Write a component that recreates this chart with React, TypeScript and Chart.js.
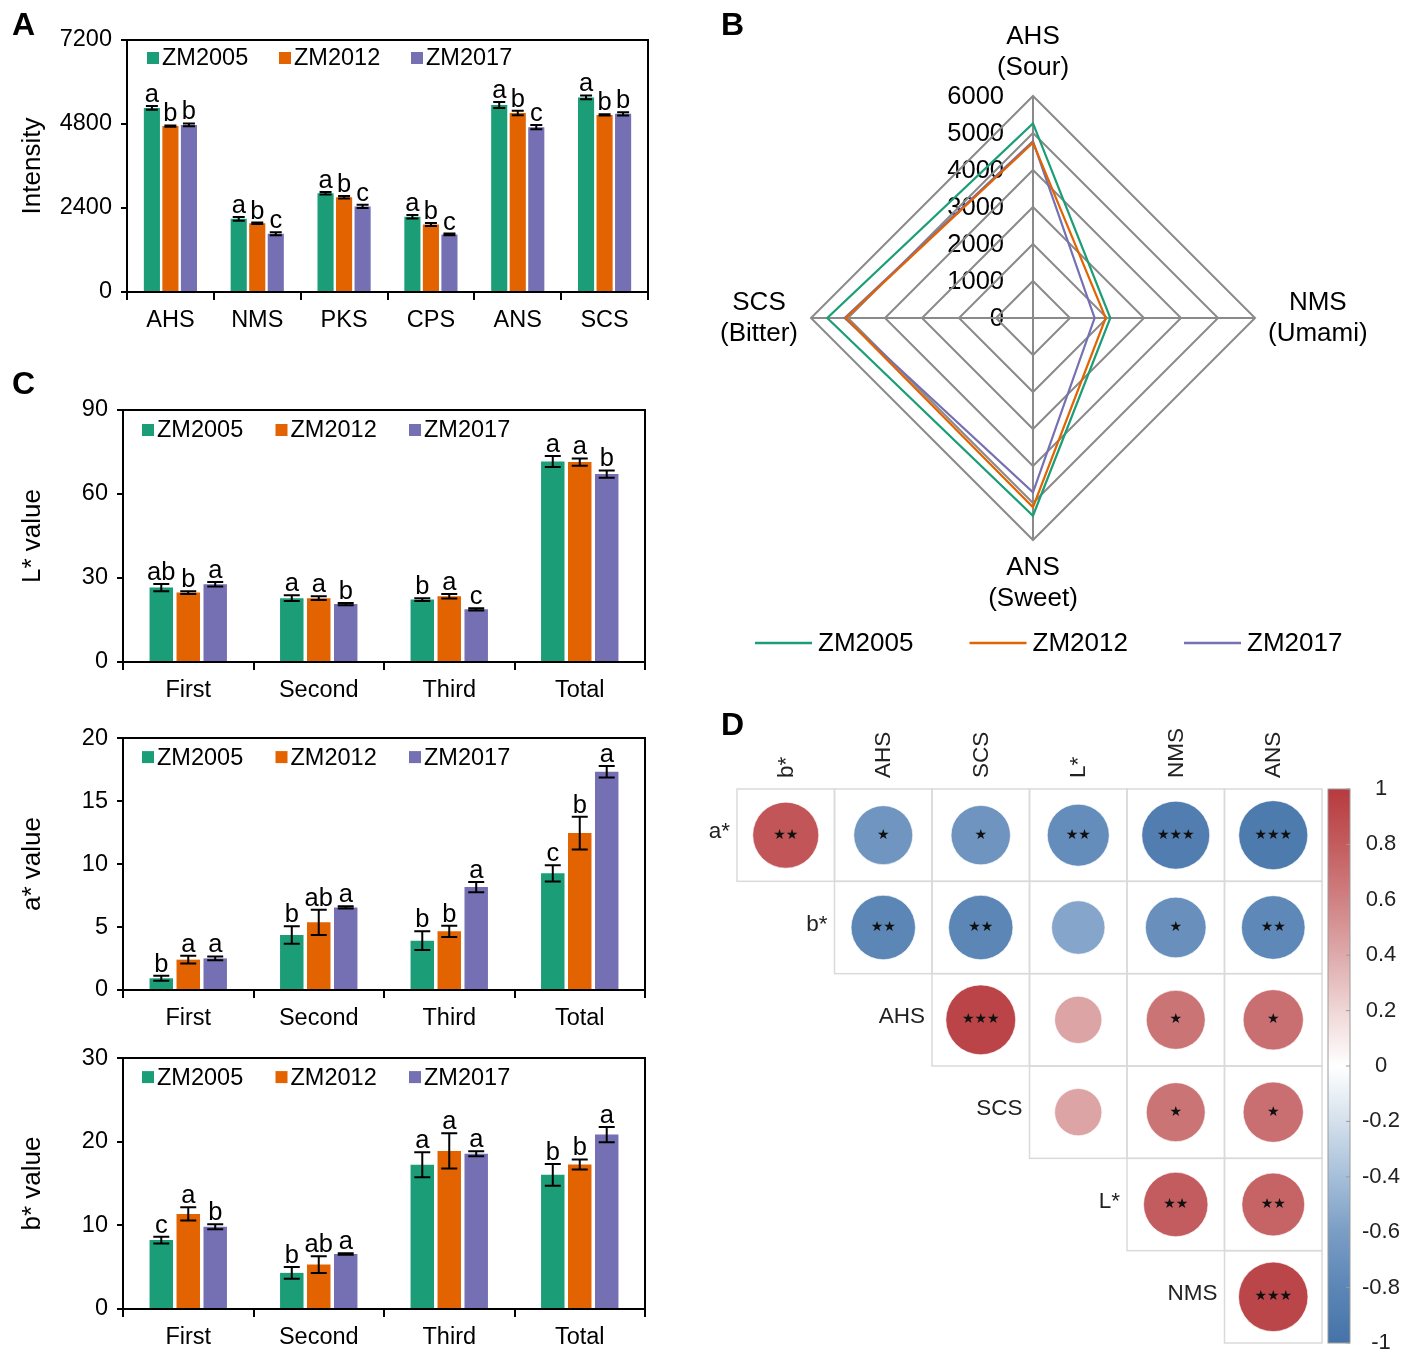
import React, { useEffect, useRef } from 'react';
import { Chart, registerables } from 'chart.js';

Chart.register(...registerables);

const FONT = '"Liberation Sans", Arial, Helvetica, sans-serif';
const SERIES = ['ZM2005', 'ZM2012', 'ZM2017'];
const SERIES_COLORS = ['#1b9e77', '#e26300', '#7570b3'];

// ---------- Panel A : taste sensor intensity ----------
const tasteCategories = ['AHS', 'NMS', 'PKS', 'CPS', 'ANS', 'SCS'];
const intensity2005 = [5260, 2090, 2820, 2150, 5345, 5560];
const intensity2012 = [4740, 1965, 2710, 1930, 5115, 5060];
const intensity2017 = [4775, 1665, 2445, 1645, 4710, 5090];
const intensityErr2005 = [55, 55, 35, 50, 85, 55];
const intensityErr2012 = [20, 20, 35, 45, 65, 20];
const intensityErr2017 = [40, 45, 45, 25, 60, 45];
const intensityLetters2005 = ['a', 'a', 'a', 'a', 'a', 'a'];
const intensityLetters2012 = ['b', 'b', 'b', 'b', 'b', 'b'];
const intensityLetters2017 = ['b', 'c', 'c', 'c', 'c', 'b'];

// ---------- Panel B : radar ----------
const radarAxes = ['AHS', 'NMS', 'ANS', 'SCS'];
const radarAxisNames = ['(Sour)', '(Umami)', '(Sweet)', '(Bitter)'];
const radarTicks = [0, 1000, 2000, 3000, 4000, 5000, 6000];

// ---------- Panel C : colour values ----------
const stages = ['First', 'Second', 'Third', 'Total'];
const L2005 = [26.6, 22.8, 22.3, 71.6];
const L2012 = [24.8, 22.8, 23.5, 71.4];
const L2017 = [27.8, 20.7, 18.8, 67.1];
const LErr2005 = [1.3, 1.0, 0.5, 2.0];
const LErr2012 = [0.5, 0.7, 0.8, 1.3];
const LErr2017 = [0.8, 0.4, 0.4, 1.3];
const LLetters2005 = ['ab', 'a', 'b', 'a'];
const LLetters2012 = ['b', 'a', 'a', 'a'];
const LLetters2017 = ['a', 'b', 'c', 'b'];

const a2005 = [0.93, 4.37, 3.92, 9.26];
const a2012 = [2.41, 5.37, 4.66, 12.46];
const a2017 = [2.51, 6.56, 8.17, 17.33];
const aErr2005 = [0.2, 0.7, 0.75, 0.65];
const aErr2012 = [0.3, 1.0, 0.45, 1.3];
const aErr2017 = [0.15, 0.08, 0.4, 0.45];
const aLetters2005 = ['b', 'b', 'b', 'c'];
const aLetters2012 = ['a', 'ab', 'b', 'b'];
const aLetters2017 = ['a', 'a', 'a', 'a'];

const b2005 = [8.24, 4.32, 17.24, 16.05];
const b2012 = [11.37, 5.31, 18.9, 17.28];
const b2017 = [9.83, 6.58, 18.55, 20.85];
const bErr2005 = [0.4, 0.7, 1.5, 1.3];
const bErr2012 = [0.8, 1.0, 2.1, 0.6];
const bErr2017 = [0.3, 0.08, 0.3, 0.9];
const bLetters2005 = ['c', 'b', 'a', 'b'];
const bLetters2012 = ['a', 'ab', 'a', 'b'];
const bLetters2017 = ['b', 'a', 'a', 'a'];

// ---------- Panel D : correlation matrix (upper triangle) ----------
const corrRows = ['a*', 'b*', 'AHS', 'SCS', 'L*', 'NMS'];
const corrCols = ['b*', 'AHS', 'SCS', 'L*', 'NMS', 'ANS'];
const corrRowA = [0.84, -0.67, -0.68, -0.74, -0.89, -0.92];
const corrRowB = [-0.8, -0.8, -0.55, -0.71, -0.78];
const corrRowAHS = [0.94, 0.43, 0.67, 0.7];
const corrRowSCS = [0.43, 0.67, 0.7];
const corrRowL = [0.8, 0.76];
const corrRowNMS = [0.93];
const starsRowA = [2, 1, 1, 2, 3, 3];
const starsRowB = [2, 2, 0, 1, 2];
const starsRowAHS = [3, 0, 1, 1];
const starsRowSCS = [0, 1, 1];
const starsRowL = [2, 2];
const starsRowNMS = [3];
const cbarStops = [-1, -0.8, -0.6, -0.4, -0.2, 0, 0.2, 0.4, 0.6, 0.8, 1];
const cbarColors = ['#4573a8', '#5b86b6', '#7a9dc5', '#a6bfd9', '#d4e0ec', '#ffffff', '#efd6d6', '#deaaab', '#d08183', '#c35c5e', '#b73a3e'];
const cbarTicks = [1, 0.8, 0.6, 0.4, 0.2, 0, -0.2, -0.4, -0.6, -0.8, -1];

function hexToRgb(h: string) {
  const n = parseInt(h.slice(1), 16);
  return [(n >> 16) & 255, (n >> 8) & 255, n & 255];
}
function corrColor(v: number) {
  for (let k = 0; k < cbarStops.length - 1; k++) {
    if (v <= cbarStops[k + 1]) {
      const t = (v - cbarStops[k]) / (cbarStops[k + 1] - cbarStops[k]);
      const c1 = hexToRgb(cbarColors[k]);
      const c2 = hexToRgb(cbarColors[k + 1]);
      const c = c1.map((c, i) => Math.round(c + (c2[i] - c) * t));
      return `rgb(${c[0]},${c[1]},${c[2]})`;
    }
  }
  return cbarColors[cbarColors.length - 1];
}

type BarCfg = {
  categories: string[];
  values: number[][];
  errors: number[][];
  letters: string[][];
  yMax: number;
  yStep: number;
  yTitle: string;
  area: { left: number; top: number; right: number; bottom: number };
  catPct: number;
  barPct: number;
  capW: number;
  legend: { x0: number; dx: number; dy: number };
};

function buildBarChart(canvas: HTMLCanvasElement, cfg: BarCfg) {
  const W = canvas.width;
  const H = canvas.height;
  const extras = {
    id: 'barExtras',
    afterDatasetsDraw(chart: any) {
      const { ctx, chartArea: a } = chart;
      const ys = chart.scales.y;
      ctx.save();
      ctx.strokeStyle = '#000';
      ctx.lineWidth = 2;
      ctx.beginPath();
      ctx.moveTo(a.left - 1, a.top);
      ctx.lineTo(a.right, a.top);
      ctx.lineTo(a.right, a.bottom + 1);
      ctx.stroke();
      ctx.fillStyle = '#000';
      ctx.font = `25.5px ${FONT}`;
      ctx.textAlign = 'center';
      ctx.textBaseline = 'alphabetic';
      cfg.values.forEach((series, s) => {
        const meta = chart.getDatasetMeta(s);
        series.forEach((v, i) => {
          const bar = meta.data[i];
          const e = cfg.errors[s][i];
          const yt = ys.getPixelForValue(v + e);
          const yb = ys.getPixelForValue(v - e);
          const x = bar.x;
          const hw = cfg.capW / 2;
          ctx.beginPath();
          ctx.moveTo(x, yt);
          ctx.lineTo(x, yb);
          ctx.moveTo(x - hw, yt);
          ctx.lineTo(x + hw, yt);
          ctx.moveTo(x - hw, yb);
          ctx.lineTo(x + hw, yb);
          ctx.stroke();
          ctx.fillText(cfg.letters[s][i], x, yt - 4);
        });
      });
      ctx.font = `23.5px ${FONT}`;
      ctx.textAlign = 'left';
      ctx.textBaseline = 'middle';
      SERIES.forEach((name, s) => {
        const x = a.left + cfg.legend.x0 + s * cfg.legend.dx;
        const y = a.top + cfg.legend.dy;
        ctx.fillStyle = SERIES_COLORS[s];
        ctx.fillRect(x, y - 6, 12, 12);
        ctx.fillStyle = '#000';
        ctx.fillText(name, x + 15, y + 1);
      });
      ctx.restore();
    },
  };
  return new Chart(canvas, {
    type: 'bar',
    data: {
      labels: cfg.categories,
      datasets: SERIES.map((name, s) => ({
        label: name,
        data: cfg.values[s],
        backgroundColor: SERIES_COLORS[s],
        borderWidth: 0,
        categoryPercentage: cfg.catPct,
        barPercentage: cfg.barPct,
      })),
    },
    options: {
      animation: false,
      responsive: false,
      devicePixelRatio: 1,
      events: [],
      layout: { padding: { left: 0, top: cfg.area.top, right: W - cfg.area.right, bottom: 0 } },
      plugins: { legend: { display: false }, tooltip: { enabled: false } },
      scales: {
        x: {
          type: 'category',
          offset: true,
          grid: { offset: true, drawOnChartArea: false, drawTicks: true, tickLength: 8, color: '#000', lineWidth: 2 },
          border: { display: true, color: '#000', width: 2 },
          ticks: { color: '#000', font: { family: FONT, size: 23.5 }, padding: 6, maxRotation: 0, autoSkip: false },
          afterFit: (s: any) => {
            s.height = H - cfg.area.bottom;
          },
        },
        y: {
          min: 0,
          max: cfg.yMax,
          ticks: {
            stepSize: cfg.yStep,
            color: '#000',
            font: { family: FONT, size: 23.5 },
            padding: 9,
            callback: (v: any) => String(v),
          },
          grid: { drawOnChartArea: false, drawTicks: true, tickLength: 6, color: '#000', lineWidth: 2 },
          border: { display: true, color: '#000', width: 2 },
          title: {
            display: true,
            text: cfg.yTitle,
            color: '#000',
            font: { family: FONT, size: 26 },
            padding: { top: 17, bottom: 0 },
          },
          afterFit: (s: any) => {
            s.width = cfg.area.left;
          },
        },
      },
    },
    plugins: [extras],
  } as any);
}

function buildRadar(canvas: HTMLCanvasElement) {
  const pick = (arr: number[]) => radarAxes.map((k) => arr[tasteCategories.indexOf(k)]);
  const radarValues = [pick(intensity2005), pick(intensity2012), pick(intensity2017)];
  const extras = {
    id: 'radarExtras',
    beforeDraw(chart: any) {
      const r = chart.scales.r;
      const ctx = chart.ctx;
      ctx.save();
      ctx.fillStyle = '#000';
      ctx.font = `25.5px ${FONT}`;
      ctx.textAlign = 'right';
      ctx.textBaseline = 'middle';
      radarTicks.forEach((v) => {
        const p = r.getPointPosition(0, r.getDistanceFromCenterForValue(v));
        ctx.fillText(String(v), p.x - 29, p.y + 1);
      });
      ctx.restore();
    },
    afterDraw(chart: any) {
      const r = chart.scales.r;
      const ctx = chart.ctx;
      ctx.save();
      ctx.fillStyle = '#000';
      ctx.font = `26px ${FONT}`;
      ctx.textAlign = 'center';
      ctx.textBaseline = 'middle';
      const lh = 31;
      radarAxes.forEach((name, i) => {
        const lines = [name, radarAxisNames[i]];
        const v = r.getPointPosition(i, r.drawingArea);
        const cos = Math.cos(v.angle);
        const sin = Math.sin(v.angle);
        const w = Math.max(...lines.map((l) => ctx.measureText(l).width));
        lines.forEach((l, k) => {
          let x = v.x;
          let y: number;
          if (Math.abs(cos) < 0.1) {
            y = sin < 0 ? v.y - 28 - (lines.length - 1 - k) * lh : v.y + 28 + k * lh;
          } else {
            x = cos > 0 ? v.x + 13 + w / 2 : v.x - 13 - w / 2;
            y = v.y - lh / 2 + k * lh;
          }
          ctx.fillText(l, x, y);
        });
      });
      // legend
      ctx.textAlign = 'left';
      ctx.lineWidth = 2.5;
      SERIES.forEach((name, s) => {
        const x = 55 + s * 214.5;
        const y = 643;
        ctx.strokeStyle = SERIES_COLORS[s];
        ctx.beginPath();
        ctx.moveTo(x, y);
        ctx.lineTo(x + 57, y);
        ctx.stroke();
        ctx.fillText(name, x + 63, y + 1);
      });
      ctx.restore();
    },
  };
  return new Chart(canvas, {
    type: 'radar',
    data: {
      labels: radarAxes,
      datasets: SERIES.map((name, s) => ({
        label: name,
        data: radarValues[s],
        borderColor: SERIES_COLORS[s],
        backgroundColor: 'transparent',
        borderWidth: 2.2,
        pointRadius: 0,
        fill: false,
      })),
    },
    options: {
      animation: false,
      responsive: false,
      devicePixelRatio: 1,
      events: [],
      layout: { padding: { left: 111, top: 96, right: 160, bottom: 140 } },
      plugins: { legend: { display: false }, tooltip: { enabled: false } },
      scales: {
        r: {
          min: 0,
          max: 6000,
          ticks: { display: false, stepSize: 1000 },
          pointLabels: { display: false },
          grid: { color: '#8a8a8a', lineWidth: 2 },
          angleLines: { color: '#8a8a8a', lineWidth: 2 },
        },
      },
    },
    plugins: [extras],
  } as any);
}

function buildCorr(canvas: HTMLCanvasElement) {
  const matrix = [corrRowA, corrRowB, corrRowAHS, corrRowSCS, corrRowL, corrRowNMS];
  const stars = [starsRowA, starsRowB, starsRowAHS, starsRowSCS, starsRowL, starsRowNMS];
  const points: any[] = [];
  matrix.forEach((row, i) =>
    row.forEach((v, k) => {
      points.push({ x: i + k, y: i, r: 36 * Math.sqrt(Math.abs(v)), v, n: stars[i][k] });
    })
  );
  const cell = (chart: any, i: number, j: number) => {
    const xs = chart.scales.x;
    const ys = chart.scales.y;
    const x0 = xs.getPixelForValue(j - 0.5);
    const x1 = xs.getPixelForValue(j + 0.5);
    const y0 = ys.getPixelForValue(i - 0.5);
    const y1 = ys.getPixelForValue(i + 0.5);
    return { x: Math.min(x0, x1), y: Math.min(y0, y1), w: Math.abs(x1 - x0), h: Math.abs(y1 - y0) };
  };
  const extras = {
    id: 'corrExtras',
    beforeDatasetsDraw(chart: any) {
      const ctx = chart.ctx;
      ctx.save();
      ctx.strokeStyle = '#dadada';
      ctx.lineWidth = 1.5;
      matrix.forEach((row, i) =>
        row.forEach((_, k) => {
          const c = cell(chart, i, i + k);
          ctx.strokeRect(c.x, c.y, c.w, c.h);
        })
      );
      ctx.restore();
    },
    afterDatasetsDraw(chart: any) {
      const ctx = chart.ctx;
      const a = chart.chartArea;
      ctx.save();
      // stars
      ctx.fillStyle = '#111';
      ctx.font = `14px "DejaVu Sans", sans-serif`;
      ctx.textAlign = 'center';
      ctx.textBaseline = 'middle';
      const meta = chart.getDatasetMeta(0);
      points.forEach((p, idx) => {
        if (p.n > 0) {
          const el = meta.data[idx];
          ctx.fillText('★'.repeat(p.n), el.x, el.y);
        }
      });
      // row labels
      ctx.fillStyle = '#222';
      ctx.font = `22.5px ${FONT}`;
      ctx.textAlign = 'right';
      corrRows.forEach((name, i) => {
        const c = cell(chart, i, i);
        ctx.fillText(name, c.x - 7, c.y + c.h / 2 - 3);
      });
      // column labels
      ctx.textAlign = 'left';
      corrCols.forEach((name, j) => {
        const c = cell(chart, 0, j);
        ctx.save();
        ctx.translate(c.x + c.w / 2, a.top - 11);
        ctx.rotate(-Math.PI / 2);
        ctx.fillText(name, 0, 1);
        ctx.restore();
      });
      // colour bar
      const cbX = a.right + 6;
      const cbW = 22;
      const top = a.top;
      const bot = a.bottom;
      const grad = ctx.createLinearGradient(0, bot, 0, top);
      cbarStops.forEach((v, k) => grad.addColorStop((v + 1) / 2, cbarColors[k]));
      ctx.fillStyle = grad;
      ctx.fillRect(cbX, top, cbW, bot - top);
      ctx.strokeStyle = '#9a9a9a';
      ctx.lineWidth = 1;
      ctx.strokeRect(cbX, top, cbW, bot - top);
      ctx.fillStyle = '#222';
      ctx.textAlign = 'center';
      ctx.font = `22px ${FONT}`;
      cbarTicks.forEach((v) => {
        const y = bot - ((v + 1) / 2) * (bot - top);
        ctx.beginPath();
        ctx.moveTo(cbX + cbW - 4, y);
        ctx.lineTo(cbX + cbW, y);
        ctx.stroke();
        ctx.fillText(String(v), a.right + 59, y);
      });
      ctx.restore();
    },
  };
  return new Chart(canvas, {
    type: 'bubble',
    data: {
      datasets: [
        {
          data: points,
          backgroundColor: (c: any) => (c.raw ? corrColor(c.raw.v) : '#fff'),
          borderColor: 'rgba(255,255,255,0.6)',
          borderWidth: 1,
          clip: false,
        },
      ],
    },
    options: {
      animation: false,
      responsive: false,
      devicePixelRatio: 1,
      events: [],
      layout: { autoPadding: false, padding: { left: 37, top: 89, right: 93, bottom: 21 } },
      plugins: { legend: { display: false }, tooltip: { enabled: false } },
      scales: {
        x: { type: 'linear', min: -0.5, max: 5.5, display: false },
        y: { type: 'linear', min: -0.5, max: 5.5, reverse: true, display: false },
      },
    },
    plugins: [extras],
  } as any);
}

const letterStyle = (left: number, top: number): React.CSSProperties => ({
  position: 'absolute',
  left,
  top,
  font: `bold 32px ${FONT}`,
  lineHeight: '32px',
  color: '#000',
});

export default function App() {
  const refA = useRef<HTMLCanvasElement>(null);
  const refB = useRef<HTMLCanvasElement>(null);
  const refC1 = useRef<HTMLCanvasElement>(null);
  const refC2 = useRef<HTMLCanvasElement>(null);
  const refC3 = useRef<HTMLCanvasElement>(null);
  const refD = useRef<HTMLCanvasElement>(null);

  useEffect(() => {
    const charts: Chart[] = [];
    charts.push(
      buildBarChart(refA.current!, {
        categories: tasteCategories,
        values: [intensity2005, intensity2012, intensity2017],
        errors: [intensityErr2005, intensityErr2012, intensityErr2017],
        letters: [intensityLetters2005, intensityLetters2012, intensityLetters2017],
        yMax: 7200,
        yStep: 2400,
        yTitle: 'Intensity',
        area: { left: 127, top: 40, right: 648, bottom: 292 },
        catPct: 0.64,
        barPct: 0.87,
        capW: 12,
        legend: { x0: 20, dx: 132, dy: 18 },
      })
    );
    charts.push(buildRadar(refB.current!));
    const cCommon = { catPct: 0.62, barPct: 0.87, capW: 16, legend: { x0: 19, dx: 133.5, dy: 20 } };
    charts.push(
      buildBarChart(refC1.current!, {
        ...cCommon,
        categories: stages,
        values: [L2005, L2012, L2017],
        errors: [LErr2005, LErr2012, LErr2017],
        letters: [LLetters2005, LLetters2012, LLetters2017],
        yMax: 90,
        yStep: 30,
        yTitle: 'L* value',
        area: { left: 123, top: 50, right: 645, bottom: 302 },
      })
    );
    charts.push(
      buildBarChart(refC2.current!, {
        ...cCommon,
        categories: stages,
        values: [a2005, a2012, a2017],
        errors: [aErr2005, aErr2012, aErr2017],
        letters: [aLetters2005, aLetters2012, aLetters2017],
        yMax: 20,
        yStep: 5,
        yTitle: 'a* value',
        area: { left: 123, top: 23, right: 645, bottom: 275 },
        legend: { x0: 19, dx: 133.5, dy: 19 },
      })
    );
    charts.push(
      buildBarChart(refC3.current!, {
        ...cCommon,
        categories: stages,
        values: [b2005, b2012, b2017],
        errors: [bErr2005, bErr2012, bErr2017],
        letters: [bLetters2005, bLetters2012, bLetters2017],
        yMax: 30,
        yStep: 10,
        yTitle: 'b* value',
        area: { left: 123, top: 22, right: 645, bottom: 274 },
        legend: { x0: 19, dx: 133.5, dy: 19 },
      })
    );
    charts.push(buildCorr(refD.current!));
    return () => charts.forEach((c) => c.destroy());
  }, []);

  const cv = (left: number, top: number): React.CSSProperties => ({ position: 'absolute', left, top });

  return (
    <div style={{ position: 'absolute', left: 0, top: 0, width: 1415, height: 1364, background: '#fff', overflow: 'hidden' }}>
      <canvas ref={refA} width={700} height={345} style={cv(0, 0)} />
      <canvas ref={refB} width={715} height={680} style={cv(700, 0)} />
      <canvas ref={refC1} width={700} height={355} style={cv(0, 360)} />
      <canvas ref={refC2} width={700} height={320} style={cv(0, 715)} />
      <canvas ref={refC3} width={700} height={329} style={cv(0, 1035)} />
      <canvas ref={refD} width={715} height={664} style={cv(700, 700)} />
      <div style={letterStyle(12, 8)}>A</div>
      <div style={letterStyle(721, 8)}>B</div>
      <div style={letterStyle(12, 367)}>C</div>
      <div style={letterStyle(721, 708)}>D</div>
    </div>
  );
}
